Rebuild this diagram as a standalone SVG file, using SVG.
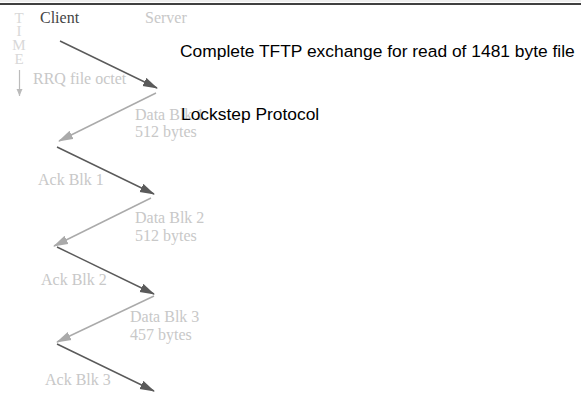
<svg xmlns="http://www.w3.org/2000/svg" width="581" height="396" viewBox="0 0 581 396">
<style>
.lbl{font-family:"Liberation Serif",serif;font-size:16px;fill:#c8c8c8}
.cl{font-family:"Liberation Serif",serif;font-size:16px;fill:#444}
.time{font-family:"Liberation Serif",serif;font-size:15px;fill:#d8d8d8;text-anchor:middle}
.title{font-family:"Liberation Sans",Arial,sans-serif;font-size:17.4px;fill:#000}
.dk{stroke:#5a5a5a;stroke-width:1.4;fill:none;marker-end:url(#ad)}
.lt{stroke:#aaa;stroke-width:1.4;fill:none;marker-end:url(#al)}
</style>
<defs>
<marker id="ad" markerUnits="userSpaceOnUse" markerWidth="15" markerHeight="10" refX="14" refY="5" orient="auto"><path d="M0,0.5 L15,5 L0,9.5 Z" fill="#5a5a5a"/></marker>
<marker id="al" markerUnits="userSpaceOnUse" markerWidth="15" markerHeight="10" refX="14" refY="5" orient="auto"><path d="M0,0.5 L15,5 L0,9.5 Z" fill="#aaa"/></marker>
<marker id="at" markerUnits="userSpaceOnUse" markerWidth="8" markerHeight="8" refX="4" refY="7" orient="0"><path d="M1,0 L4,7 L7,0 Z" fill="#bbb"/></marker>
</defs>
<rect width="581" height="396" fill="#fff"/>
<line x1="0" y1="1" x2="581" y2="1" stroke="#ddd" stroke-width="1"/>
<line x1="0" y1="4" x2="581" y2="4" stroke="#000" stroke-width="1.5"/>
<g id="time">
<text class="time" x="19" y="23">T</text>
<text class="time" x="19" y="36">I</text>
<text class="time" x="19" y="50">M</text>
<text class="time" x="19" y="64">E</text>
<line x1="19.5" y1="70" x2="19.5" y2="96" stroke="#bbb" stroke-width="1.2" marker-end="url(#at)"/>
</g>
<g id="client"><text class="cl" x="40" y="23">Client</text></g>
<g id="server"><text class="lbl" x="145" y="23">Server</text></g>
<g id="connectors">
<line class="dk" x1="60" y1="41" x2="157" y2="88"/>
<line class="lt" x1="156" y1="93" x2="59" y2="141"/>
<line class="dk" x1="57" y1="147" x2="154" y2="194"/>
<line class="lt" x1="151" y1="198" x2="54" y2="246"/>
<line class="dk" x1="57" y1="247" x2="154" y2="294"/>
<line class="lt" x1="154" y1="296" x2="57" y2="342"/>
<line class="dk" x1="57" y1="344" x2="154" y2="391"/>
</g>
<g id="labels">
<text class="lbl" x="33" y="84">RRQ file octet</text>
<text class="lbl" x="135" y="120">Data Blk 1</text>
<text class="lbl" x="135" y="137">512 bytes</text>
<text class="lbl" x="38" y="185">Ack Blk 1</text>
<text class="lbl" x="135" y="223">Data Blk 2</text>
<text class="lbl" x="135" y="241">512 bytes</text>
<text class="lbl" x="41" y="285">Ack Blk 2</text>
<text class="lbl" x="130" y="322">Data Blk 3</text>
<text class="lbl" x="130" y="340">457 bytes</text>
<text class="lbl" x="45" y="385">Ack Blk 3</text>
</g>
<g id="title">
<text class="title" x="180" y="57">Complete TFTP exchange for read of 1481 byte file</text>
<text class="title" x="181" y="120">Lockstep Protocol</text>
</g>
</svg>
